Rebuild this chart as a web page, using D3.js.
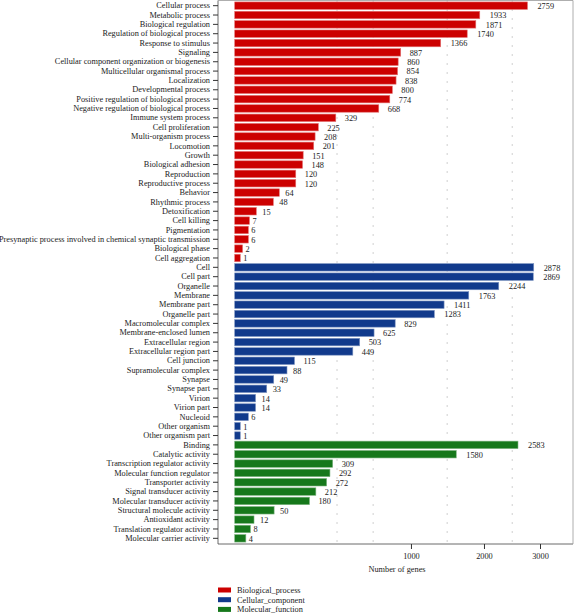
<!DOCTYPE html>
<html><head><meta charset="utf-8">
<script src="https://cdn.jsdelivr.net/npm/d3@7"></script>
<style>body{margin:0;background:#fff}svg{display:block}text{font-family:"Liberation Serif","DejaVu Serif",serif;fill:#222}</style>
</head><body>
<script>
const bpNames = ["Cellular process","Metabolic process","Biological regulation","Regulation of biological process","Response to stimulus","Signaling","Cellular component organization or biogenesis","Multicellular organismal process","Localization","Developmental process","Positive regulation of biological process","Negative regulation of biological process","Immune system process","Cell proliferation","Multi-organism process","Locomotion","Growth","Biological adhesion","Reproduction","Reproductive process","Behavior","Rhythmic process","Detoxification","Cell killing","Pigmentation","Presynaptic process involved in chemical synaptic transmission","Biological phase","Cell aggregation"];
const bpValues = [2759,1933,1871,1740,1366,887,860,854,838,800,774,668,329,225,208,201,151,148,120,120,64,48,15,7,6,6,2,1];
const ccNames = ["Cell","Cell part","Organelle","Membrane","Membrane part","Organelle part","Macromolecular complex","Membrane-enclosed lumen","Extracellular region","Extracellular region part","Cell junction","Supramolecular complex","Synapse","Synapse part","Virion","Virion part","Nucleoid","Other organism","Other organism part"];
const ccValues = [2878,2869,2244,1763,1411,1283,829,625,503,449,115,88,49,33,14,14,6,1,1];
const mfNames = ["Binding","Catalytic activity","Transcription regulator activity","Molecular function regulator","Transporter activity","Signal transducer activity","Molecular transducer activity","Structural molecule activity","Antioxidant activity","Translation regulator activity","Molecular carrier activity"];
const mfValues = [2583,1580,309,292,272,212,180,50,12,8,4];
const groups = ["Biological_process","Cellular_component","Molecular_function"];
const groupColors = ["#cc0000","#113a8c","#16781b"];
const xTicks = [1000,2000,3000];
const gridValues = [337,617,1453,2479];
const xTitle = "Number of genes";

const rows = [];
[[bpNames,bpValues],[ccNames,ccValues],[mfNames,mfValues]].forEach(([n,v],g)=>{
  n.forEach((name,i)=>rows.push({name, value:v[i], group:g}));
});

const W=578,H=614;
const frameL=218, frameR=573, frameT=0.5, frameB=544;
const FS=8.3;
const svg=d3.select("body").append("svg").attr("width",W).attr("height",H);
const x=d3.scaleSqrt().domain([0,3000]).range([234.7,540]);
const y=d3.scaleBand().domain(rows.map(d=>d.name)).range([1,543]).paddingInner(0.2).paddingOuter(0.1);
const color=d3.scaleOrdinal().domain([0,1,2]).range(groupColors);

// grid
svg.append("g").selectAll("line").data(gridValues).join("line")
  .attr("x1",d=>x(d)).attr("x2",d=>x(d)).attr("y1",frameT).attr("y2",frameB)
  .attr("stroke","#888").attr("stroke-width",0.8).attr("stroke-dasharray","1,8");

// bars
svg.append("g").selectAll("rect").data(rows).join("rect")
  .attr("x",x(0)).attr("y",d=>y(d.name)).attr("width",d=>x(d.value)-x(0)).attr("height",y.bandwidth())
  .attr("fill",d=>color(d.group)).attr("stroke",d=>d3.interpolateRgb(color(d.group),"#fff")(0.45)).attr("stroke-width",0.6);

// value labels
svg.append("g").selectAll("text").data(rows).join("text")
  .attr("x",d=>x(d.value)+Math.min(3*String(d.value).length,10))
  .attr("y",d=>y(d.name)+y.bandwidth()/2+0.5).attr("dy","0.35em")
  .attr("font-size",FS).style("fill","#222").text(d=>d.value);

// frame
const fr=svg.append("g").attr("stroke","#444").attr("stroke-width",0.8).attr("fill","none");
fr.append("line").attr("x1",frameL).attr("x2",frameL).attr("y1",frameT).attr("y2",frameB);
fr.append("line").attr("x1",frameL).attr("x2",frameR).attr("y1",frameB).attr("y2",frameB);
fr.append("line").attr("x1",frameR).attr("x2",frameR).attr("y1",frameT).attr("y2",frameB).attr("stroke","#999");
fr.append("line").attr("x1",frameL).attr("x2",frameR).attr("y1",frameT).attr("y2",frameT).attr("stroke","#999");

// y axis
const yAxis=d3.axisLeft(y).tickSize(5).tickPadding(3);
const ga=svg.append("g").attr("transform",`translate(${frameL},0)`).call(yAxis);
ga.select(".domain").remove();
ga.selectAll("line").attr("stroke","#333");
ga.selectAll("text").attr("font-size",FS).attr("font-family","Liberation Serif").style("fill","#222");

// x axis
const xAxis=d3.axisBottom(x).tickValues(xTicks).tickFormat(d3.format("d")).tickSize(5).tickPadding(4);
const gx=svg.append("g").attr("transform",`translate(0,${frameB})`).call(xAxis);
gx.select(".domain").remove();
gx.selectAll("line").attr("stroke","#333");
gx.selectAll("text").attr("font-size",FS).attr("font-family","Liberation Serif").style("fill","#222");
svg.append("text").attr("x",397).attr("y",572).attr("text-anchor","middle").attr("font-size",FS).style("fill","#222").text(xTitle);

// legend
const lg=svg.append("g").attr("transform",`translate(${frameL},590)`);
groups.forEach((g,i)=>{
  lg.append("rect").attr("x",0).attr("y",i*9.7-2.5).attr("width",13).attr("height",5).attr("fill",groupColors[i]);
  lg.append("text").attr("x",19).attr("y",i*9.7).attr("dy","0.35em").attr("font-size",FS).style("fill","#222").text(g);
});
</script>
</body></html>
